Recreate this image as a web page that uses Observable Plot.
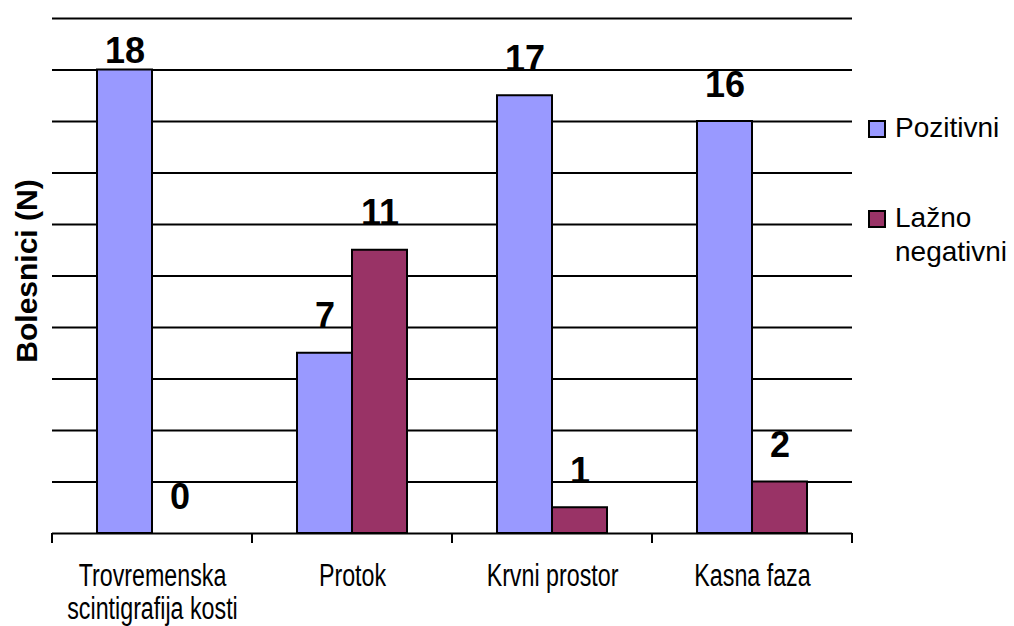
<!DOCTYPE html>
<html>
<head>
<meta charset="utf-8">
<script src="https://cdn.jsdelivr.net/npm/d3@7"></script>
<script src="https://cdn.jsdelivr.net/npm/@observablehq/plot@0.6"></script>
<style>
  html, body { margin: 0; padding: 0; background: white; }
  #wrap { position: relative; width: 1014px; height: 626px; overflow: hidden; }
  #legend { position: absolute; left: 868px; top: 111px; font-family: "Liberation Sans", Arial, sans-serif; font-size: 28px; line-height: 34px; color: black; }
  .item { display: flex; align-items: flex-start; }
  .sw { width: 14px; height: 14px; border: 2px solid black; margin-top: 9px; margin-right: 9px; flex: none; }
</style>
</head>
<body>
<div id="wrap">
  <div id="chart"></div>
  <div id="legend"></div>
</div>
<script>
const categories = ["Trovremenska\nscintigrafija kosti", "Protok", "Krvni prostor", "Kasna faza"];
const series = ["Pozitivni", "Lažno negativni"];
const legendLabels = ["Pozitivni", "Lažno<br>negativni"];
const pozitivni = [18, 7, 17, 16];
const laznoNegativni = [0, 11, 1, 2];
const gridValues = [2, 4, 6, 8, 10, 12, 14, 16, 18, 20];
const colors = ["#9999FF", "#993366"];
const yLabel = "Bolesnici (N)";

const data = categories.flatMap((c, i) => [
  {category: c, series: series[0], value: pozitivni[i]},
  {category: c, series: series[1], value: laznoNegativni[i]}
]);

const labelOpts = {fx: "category", x: "series", y: "value", text: d => String(d.value),
  lineAnchor: "bottom", fontSize: 36, fontWeight: "bold", fill: "black"};

const plot = Plot.plot({
  width: 860,
  height: 626,
  marginLeft: 52,
  marginRight: 8,
  marginTop: 18,
  marginBottom: 93,
  style: {fontFamily: "'Liberation Sans', Arial, sans-serif", background: "white", overflow: "visible"},
  fx: {domain: categories, padding: 0, label: null},
  x: {domain: series, axis: null, paddingInner: 0, paddingOuter: 0.786},
  y: {domain: [0, 20], axis: null},
  color: {domain: series, range: colors},
  marks: [
    Plot.ruleY(gridValues, {stroke: "black", strokeWidth: 2}),
    Plot.barY(data, {fx: "category", x: "series", y: "value", fill: "series", stroke: "black", strokeWidth: 2}),
    Plot.ruleY([0], {stroke: "black", strokeWidth: 2}),
    Plot.text(data.filter(d => d.value < 18), {...labelOpts, dy: -25}),
    Plot.text(data.filter(d => d.value >= 18), {...labelOpts, dy: -7}),
    Plot.text([yLabel], {fx: () => categories[0], text: d => d, frameAnchor: "left", textAnchor: "middle",
      rotate: -90, dx: -25, dy: -5, fontSize: 30, fontWeight: "bold", fill: "black"}),
    Plot.axisFx({anchor: "bottom", tickSize: 0, tickPadding: 29, fontSize: 31, lineHeight: 1.065,
      lineAnchor: "top", label: null, fill: "black"})
  ]
});

// condense the category labels horizontally (the reference uses a narrow face)
d3.select(plot).selectAll('g[aria-label="fx-axis tick label"] text').each(function () {
  const t = this.getAttribute("transform") || "";
  this.setAttribute("transform", t + " scale(0.75,1)");
});

// boundary tick marks on the category axis, positioned via the plot's own scales
const fx = plot.scale("fx");
const ys = plot.scale("y");
const y0 = ys.apply(0);
const edges = categories.map(c => fx.apply(c)).concat([fx.apply(categories[categories.length - 1]) + fx.bandwidth]);
d3.select(plot).append("g").selectAll("line").data(edges).join("line")
  .attr("x1", d => d).attr("x2", d => d)
  .attr("y1", y0).attr("y2", y0 + 10)
  .attr("stroke", "black").attr("stroke-width", 2);

document.getElementById("chart").appendChild(plot);

const legend = document.getElementById("legend");
series.forEach((s, i) => {
  const item = document.createElement("div");
  item.className = "item";
  if (i === 0) item.style.marginBottom = "56px";
  const sw = document.createElement("div");
  sw.className = "sw";
  sw.style.background = colors[i];
  const t = document.createElement("div");
  t.innerHTML = legendLabels[i];
  item.appendChild(sw);
  item.appendChild(t);
  legend.appendChild(item);
});
</script>
</body>
</html>
